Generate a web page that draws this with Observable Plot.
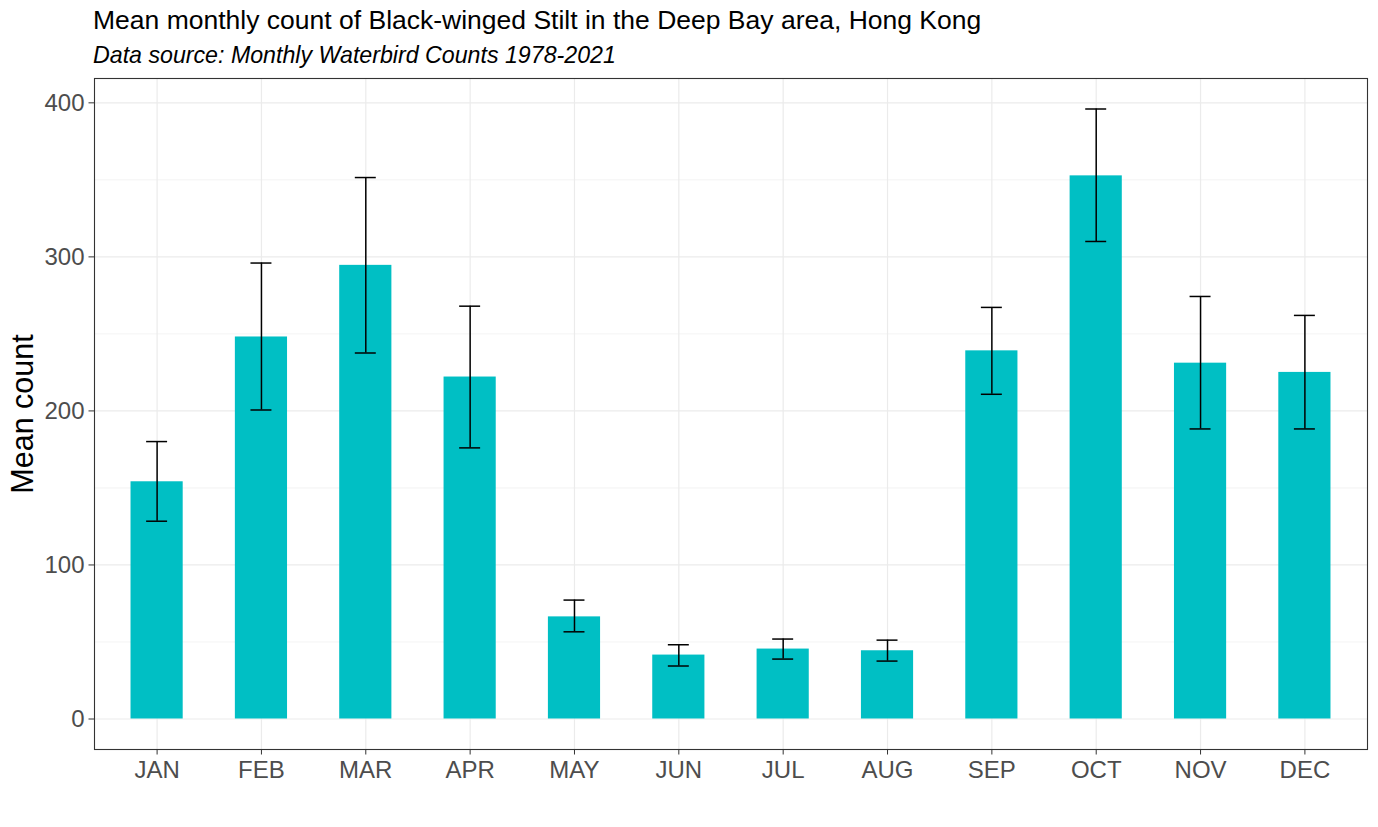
<!DOCTYPE html>
<html>
<head>
<meta charset="utf-8">
<script src="https://cdn.jsdelivr.net/npm/d3@7"></script>
<script src="https://cdn.jsdelivr.net/npm/@observablehq/plot@0.6"></script>
<style>
  html, body { margin: 0; padding: 0; background: #fff; }
  body { width: 1378px; height: 827px; position: relative; overflow: hidden; font-family: "Liberation Sans", Arial, sans-serif; }
  #title { position: absolute; left: 93px; top: 6.5px; font-size: 26.5px; line-height: 26.5px; color: #000; white-space: nowrap; }
  #subtitle { position: absolute; left: 93px; top: 43.5px; font-size: 23.2px; line-height: 23.2px; font-style: italic; color: #000; white-space: nowrap; }
  #chart { position: absolute; left: 0; top: 0; }
</style>
</head>
<body>
<div id="chart"></div>
<div id="title">Mean monthly count of Black-winged Stilt in the Deep Bay area, Hong Kong</div>
<div id="subtitle">Data source: Monthly Waterbird Counts 1978-2021</div>
<script>
const months = ["JAN","FEB","MAR","APR","MAY","JUN","JUL","AUG","SEP","OCT","NOV","DEC"];
const meanCount = [154, 248, 294.5, 222, 66.3, 41.5, 45.4, 44.3, 239, 352.6, 231, 225];
const errLow   = [128.4, 200.6, 237.6, 176, 56.6, 34.4, 38.9, 37.6, 210.8, 310, 188.3, 188.3];
const errHigh  = [180.1, 296, 351.5, 268, 77.2, 48.2, 51.9, 51.2, 267.2, 396, 274.3, 262];
const yTicks = [0, 100, 200, 300, 400];
const yMinor = [50, 150, 250, 350];

const data = months.map((m, i) => ({month: m, mean: meanCount[i], lo: errLow[i], hi: errHigh[i]}));

const chart = Plot.plot({
  width: 1378,
  height: 827,
  marginTop: 78,
  marginBottom: 78,
  marginLeft: 94,
  marginRight: 11,
  style: {fontFamily: "Liberation Sans, Arial, sans-serif", background: "#fff"},
  x: {type: "band", domain: months, paddingInner: 0.5, paddingOuter: 0.35, round: false},
  y: {domain: [-19.8, 415.8]},
  marks: [
    Plot.ruleY(yMinor, {stroke: "#ebebeb", strokeWidth: 0.6}),
    Plot.ruleY(yTicks, {stroke: "#ebebeb", strokeWidth: 1.2}),
    Plot.ruleX(months, {x: d => d, stroke: "#ebebeb", strokeWidth: 1.2}),
    Plot.barY(data, {x: "month", y: "mean", fill: "#00BFC4"}),
    Plot.ruleX(data, {x: "month", y1: "lo", y2: "hi", stroke: "#000", strokeWidth: 1.5}),
    Plot.tickY(data, {x: "month", y: "lo", stroke: "#000", strokeWidth: 1.5, insetLeft: 15.6, insetRight: 15.6}),
    Plot.tickY(data, {x: "month", y: "hi", stroke: "#000", strokeWidth: 1.5, insetLeft: 15.6, insetRight: 15.6}),
    Plot.frame({stroke: "#333", strokeWidth: 1.1}),
    Plot.axisY(yTicks, {tickSize: 5.5, tickPadding: 4.5, fontSize: 24, color: "#4d4d4d", stroke: "#333", label: null}),
    Plot.axisX(months, {tickSize: 5.5, tickPadding: 6, fontSize: 24, color: "#4d4d4d", stroke: "#333", label: null}),
    Plot.text(["Mean count"], {frameAnchor: "left", dx: -71, rotate: -90, textAnchor: "middle", fontSize: 30.5, fill: "#000", text: d => d})
  ]
});
document.getElementById("chart").appendChild(chart);
</script>
</body>
</html>
